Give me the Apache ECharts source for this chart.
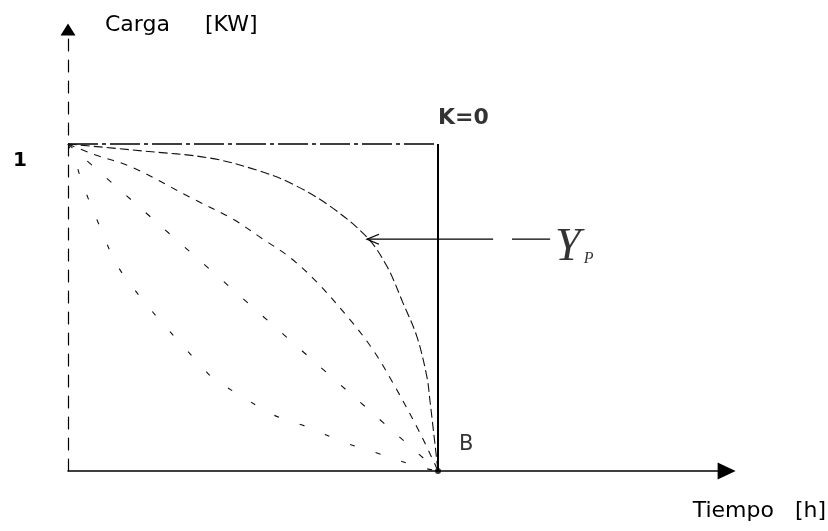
<!DOCTYPE html>
<html>
<head>
<meta charset="utf-8">
<script src="https://cdn.jsdelivr.net/npm/echarts@6/dist/echarts.min.js"></script>
<style>
	html, body { margin: 0; padding: 0; background: #fff; }
	#chartDiv { width: 828px; height: 531px; }
</style>
</head>
<body>
<div id="chartDiv"></div>
<script>
// curves from (0,1) to point B (1,0)
var curveTop = [[0, 1], [0.2, 0.979], [0.384, 0.957], [0.519, 0.917], [0.608, 0.877], [0.708, 0.81], [0.808, 0.715], [0.862, 0.626], [0.905, 0.515], [0.943, 0.411], [0.97, 0.288], [0.978, 0.218], [1, 0]];
var curveUpper = [[0, 1], [0.068, 0.969], [0.173, 0.929], [0.33, 0.837], [0.446, 0.77], [0.527, 0.709], [0.6, 0.653], [0.673, 0.577], [0.762, 0.463], [0.824, 0.371], [0.878, 0.27], [0.951, 0.117], [1, 0]];
var curveLinear = [[0, 1], [1, 0]];
var curveLower = [[0, 1], [0.022, 0.939], [0.038, 0.883], [0.081, 0.761], [0.149, 0.601], [0.376, 0.301], [0.419, 0.264], [0.484, 0.218], [0.554, 0.172], [0.646, 0.135], [0.743, 0.089], [0.835, 0.055], [0.951, 0.012], [1, 0]];

var topLine = [[0, 1], [1, 1]];
var kLine = [[1, 1], [1, 0]];
var pointB = [[1, 0]];
var ypArrow = [[1.149, 0.709], [0.808, 0.709]];
var ypTail = [[1.2, 0.709], [1.303, 0.709]];

var yTicks = ['', '1'];
var xMax = 1.78;
var yMax = 1.35;

var chart = echarts.init(document.getElementById('chartDiv'));

function curve(data, dash) {
	return {
		type: 'line',
		data: data,
		smooth: 0.35,
		symbol: 'none',
		silent: true,
		animation: false,
		lineStyle: { color: '#111', width: 1.1, type: dash }
	};
}

var option = {
	backgroundColor: '#fff',
	title: {
		text: 'Tiempo   [h]',
		right: 2,
		top: 500,
		padding: 0,
		textStyle: { fontFamily: 'DejaVu Sans', fontSize: 22, fontWeight: 'normal', color: '#000' }
	},
	grid: { left: 68, right: 828 - 68 - xMax * 370, top: 471 - yMax * 327, bottom: 60 },
	xAxis: {
		type: 'value',
		min: 0,
		max: xMax,
		splitLine: { show: false },
		axisTick: { show: false },
		axisLabel: { show: false },
		axisLine: {
			onZero: false,
			symbol: ['none', 'triangle'],
			symbolSize: [17, 18],
			lineStyle: { color: '#000', width: 1.5 }
		}
	},
	yAxis: {
		type: 'value',
		min: 0,
		max: yMax,
		interval: 1,
		splitLine: { show: false },
		axisTick: { show: false },
		axisLabel: {
			showMaxLabel: false,
			margin: 41,
			fontFamily: 'DejaVu Sans',
			fontWeight: 'bold',
			fontSize: 20,
			color: '#000',
			verticalAlign: 'top',
			padding: [7, 0, 0, 0],
			formatter: function (v) { return yTicks[v] || ''; }
		},
		axisLine: {
			onZero: false,
			symbol: ['none', 'triangle'],
			symbolSize: [15, 12],
			lineStyle: { color: '#000', width: 1.2, type: [12, 9] }
		},
		name: '{a|Carga}{b|[KW]}',
		nameLocation: 'end',
		nameGap: 4,
		nameTextStyle: {
			align: 'left',
			verticalAlign: 'middle',
			padding: [0, 0, 0, 37],
			rich: {
				a: { fontFamily: 'DejaVu Sans', fontSize: 22, color: '#000' },
				b: { fontFamily: 'DejaVu Sans', fontSize: 22, color: '#000', padding: [0, 0, 0, 35] }
			}
		}
	},
	series: [
		{
			type: 'line',
			data: topLine,
			symbol: 'none',
			animation: false,
			lineStyle: { color: '#000', width: 1.5, type: [30, 4, 4, 4] }
		},
		curve(curveTop, [9, 4]),
		curve(curveUpper, [7, 7]),
		curve(curveLinear, [6, 20]),
		curve(curveLower, [5, 22]),
		{
			type: 'line',
			data: kLine,
			symbol: 'none',
			animation: false,
			lineStyle: { color: '#000', width: 2 }
		},
		{
			type: 'line',
			data: [
				{ value: ypArrow[0], symbol: 'none' },
				{ value: ypArrow[1], symbol: 'path://M10,0 L0,5 L10,10', symbolSize: [12, 10], symbolOffset: [6, 0] }
			],
			animation: false,
			itemStyle: { color: 'none', borderColor: '#000', borderWidth: 1.3 },
			lineStyle: { color: '#000', width: 1.2 }
		},
		{
			type: 'line',
			data: ypTail,
			symbol: 'none',
			animation: false,
			lineStyle: { color: '#000', width: 1.2 }
		},
		{
			// label anchors and point B
			type: 'scatter',
			animation: false,
			data: [
				{
					value: kLine[0],
					symbolSize: 0,
					label: {
						show: true, position: 'top', align: 'left', distance: 15,
						formatter: 'K=0',
						fontFamily: 'DejaVu Sans', fontWeight: 'bold', fontSize: 22, color: '#000'
					}
				},
				{
					value: ypTail[1],
					symbolSize: 0,
					label: {
						show: true, position: 'right', distance: 5, offset: [0, 9],
						formatter: '{y|Y}{p|P}',
						rich: {
							y: { fontFamily: 'Liberation Serif', fontStyle: 'italic', fontSize: 46, color: '#000' },
							p: { fontFamily: 'Liberation Serif', fontStyle: 'italic', fontSize: 16, color: '#000', padding: [22, 0, 0, 3] }
						}
					}
				},
				{
					value: pointB[0],
					symbolSize: 6,
					itemStyle: { color: '#000' },
					label: {
						show: true, position: 'right', offset: [13, -26],
						formatter: 'B',
						fontFamily: 'DejaVu Sans', fontSize: 21, color: '#000'
					}
				}
			]
		}
	]
};

chart.setOption(option, true);
</script>
</body>
</html>
